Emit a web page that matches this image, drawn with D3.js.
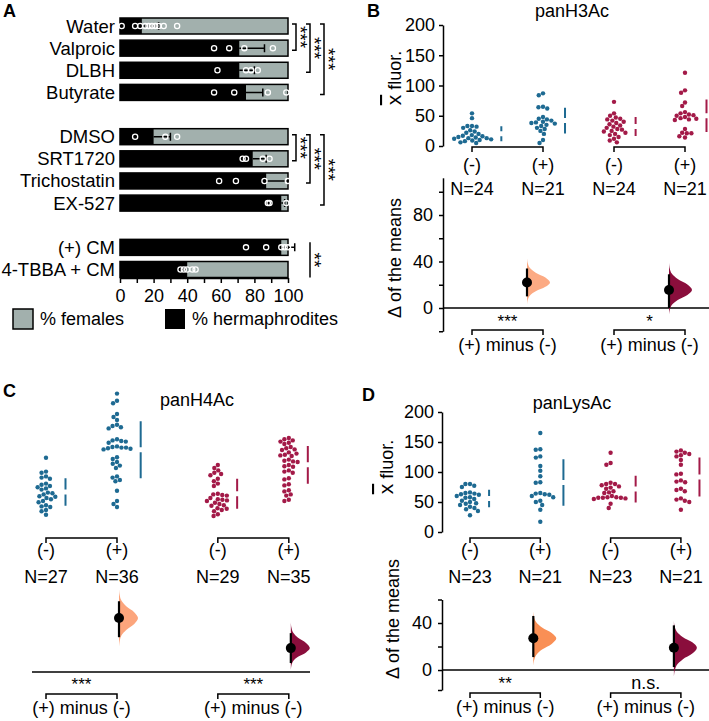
<!DOCTYPE html>
<html><head><meta charset="utf-8">
<script src="https://cdn.jsdelivr.net/npm/d3@7"></script>
<style>
body{margin:0;background:#fff;}
svg{display:block;font-family:"Liberation Sans",Arial,sans-serif;}
</style></head><body>
<svg id="fig" width="709" height="721"></svg>
<script>
// ================= DATA =================
// Panel A
const aCategories = ["Water","Valproic","DLBH","Butyrate","DMSO","SRT1720","Trichostatin","EX-527","(+) CM","4-TBBA + CM"];
const aRowOrder = ["Water","Valproic","DLBH","Butyrate","gap1","DMSO","SRT1720","Trichostatin","EX-527","gap2","(+) CM","4-TBBA + CM"];
const aHermMean = [13, 71, 71, 75, 20, 79, 87, 96, 96, 40];
const aHermErr  = [10, 15, 9, 10, 10, 8, 13, 2, 8, 0];
const aHermPoints = [
  [1, 9, 12, 15, 17, 19, 21, 23, 26, 34],
  [56, 65, 74, 91],
  [58, 75, 78, 82],
  [56, 68, 88, 99],
  [9, 27, 34],
  [73, 75, 85, 89],
  [59, 69, 86, 100, 100],
  [88, 89, 99],
  [75, 87, 96, 98, 100],
  [36, 38, 40, 43, 45]
];
const aTicks = [0, 10, 20, 30, 40, 50, 60, 70, 80, 90, 100];
const aLegend = ["% females", "% hermaphrodites"];
const aSig = [
  {from:"Water", to:"Valproic", level:0, label:"***", caps:true},
  {from:"Water", to:"DLBH", level:1, label:"***", caps:true},
  {from:"Water", to:"Butyrate", level:2, label:"***", caps:true},
  {from:"DMSO", to:"SRT1720", level:0, label:"***", caps:true},
  {from:"DMSO", to:"Trichostatin", level:1, label:"***", caps:true},
  {from:"DMSO", to:"EX-527", level:2, label:"***", caps:true},
  {from:"(+) CM", to:"4-TBBA + CM", level:1, label:"**", caps:false}
];

// Panels B-D shared labels
const groupLabels = ["(-)", "(+)", "(-)", "(+)"];
const deltaLabel = "(+) minus (-)";
const upperTicks = [0, 50, 100, 150, 200];

// Panel B: panH3Ac
const h3BlueNeg = [54, 46, 33, 33, 32, 30, 26, 24, 22, 20, 18, 17, 16, 15, 14, 13, 13, 12, 11, 10, 9, 8, 6, 5];
const h3BluePos = [87, 84, 65, 64, 62, 48, 45, 44, 42, 40, 39, 38, 37, 35, 33, 30, 28, 25, 20, 10, 5];
const h3RedNeg  = [73, 54, 50, 47, 45, 44, 42, 40, 38, 36, 34, 32, 30, 28, 27, 25, 24, 22, 20, 18, 15, 12, 9, 6];
const h3RedPos  = [121, 92, 88, 72, 66, 56, 54, 52, 51, 50, 48, 46, 45, 44, 43, 28, 22, 21, 21, 16, 14];
const h3Delta = [{mean:22, lo:10, hi:34, min:3, max:43}, {mean:15.5, lo:0, hi:29, min:-6, max:39}];
const h3Sig = ["***", "*"];

// Panel C: panH4Ac
const h4BlueNeg = [127, 104, 102, 96, 94, 92, 84, 82, 80, 78, 76, 74, 69, 68, 66, 63, 62, 60, 58, 55, 53, 48, 46, 45, 40, 38, 32];
const h4BluePos = [234, 222, 218, 200, 195, 190, 182, 180, 178, 176, 158, 156, 155, 154, 152, 146, 145, 144, 144, 143, 142, 141, 128, 125, 120, 117, 114, 110, 96, 94, 90, 88, 72, 55, 50, 45];
const h4RedNeg  = [115, 110, 106, 102, 100, 98, 92, 88, 84, 80, 67, 66, 65, 64, 60, 58, 57, 56, 55, 52, 50, 48, 47, 43, 42, 40, 38, 33, 30];
const h4RedPos  = [160, 158, 156, 154, 152, 150, 145, 143, 141, 140, 136, 134, 132, 131, 130, 124, 122, 121, 120, 115, 113, 112, 106, 104, 102, 93, 91, 83, 81, 73, 71, 66, 64, 57, 55];
const h4Delta = [{mean:46.5, lo:30, hi:61, min:21, max:72}, {mean:20.6, lo:7.7, hi:33.5, min:1.7, max:43}];
const h4Sig = ["***", "***"];

// Panel D: panLysAc
const lysBlueNeg = [80, 80, 77, 75, 66, 65, 64, 63, 62, 60, 58, 57, 55, 52, 50, 48, 47, 45, 42, 40, 38, 35, 28];
const lysBluePos = [165, 138, 137, 126, 124, 110, 102, 93, 83, 82, 65, 64, 63, 62, 60, 58, 52, 50, 45, 37, 17];
const lysRedNeg  = [132, 115, 112, 82, 80, 80, 78, 76, 74, 72, 68, 66, 65, 60, 58, 58, 57, 57, 57, 56, 55, 47, 40];
const lysRedPos  = [136, 134, 132, 130, 128, 126, 120, 112, 97, 96, 86, 84, 83, 72, 70, 68, 56, 54, 52, 50, 37];
const lysDelta = [{mean:27, lo:11, hi:46, min:3, max:50}, {mean:19, lo:2.5, hi:38, min:-6, max:42}];
const lysSig = ["**", "n.s."];

// Violin profile (relative half-width along the bootstrap distribution, read from shape)
const violinT = [-1, -0.8, -0.6, -0.4, -0.2, 0, 0.2, 0.4, 0.6, 0.8, 1];
const violinP = [0, 0.03, 0.12, 0.38, 0.8, 1, 0.8, 0.38, 0.12, 0.03, 0];

// ================= STYLE =================
const GRAY = "#a2b0ad";
const BLUE = "#1e6a92";
const RED = "#a31a48";
const MAROON = "#8a0e3c";
const FS = 18;

const svg = d3.select("#fig");
svg.append("rect").attr("width", 709).attr("height", 721).attr("fill", "#fff");

function txt(g, x, y, s, opt = {}) {
  return g.append("text").attr("x", x).attr("y", y).text(s)
    .attr("font-size", opt.size || FS)
    .attr("font-weight", opt.weight || "normal")
    .attr("text-anchor", opt.anchor || "start")
    .attr("fill", "#000");
}

// ================= PANEL A =================
(function panelA() {
  const g = svg.append("g");
  const ax = d3.scaleLinear().domain([0, 100]).range([120, 288]);
  const ay = d3.scalePoint().domain(aRowOrder).range([26, 269.5]);
  const barH = 16;

  const rows = aCategories.map((c, i) => ({c, m: aHermMean[i], e: aHermErr[i], pts: aHermPoints[i]}));

  g.selectAll("rect.bg").data(rows).join("rect")
    .attr("x", ax(0)).attr("y", d => ay(d.c) - barH / 2)
    .attr("width", ax(100) - ax(0)).attr("height", barH)
    .attr("fill", GRAY).attr("stroke", "#000").attr("stroke-width", 1.5);
  g.selectAll("rect.fg").data(rows).join("rect")
    .attr("x", ax(0)).attr("y", d => ay(d.c) - barH / 2)
    .attr("width", d => ax(d.m) - ax(0)).attr("height", barH)
    .attr("fill", "#000");
  rows.filter(d => d.e > 0).forEach(d => {
    const y = ay(d.c);
    g.append("path")
      .attr("d", `M${ax(d.m)},${y}H${ax(d.m + d.e)}M${ax(d.m + d.e)},${y - 4}V${y + 4}`)
      .attr("stroke", "#000").attr("stroke-width", 1.5).attr("fill", "none");
  });
  rows.forEach(d => {
    g.selectAll(null).data(d.pts).join("circle")
      .attr("cx", v => ax(v)).attr("cy", ay(d.c)).attr("r", 2.6)
      .attr("fill", "none").attr("stroke", "#fff").attr("stroke-width", 1.3);
  });
  g.selectAll("text.lbl").data(rows).join("text")
    .attr("x", 115).attr("y", d => ay(d.c) + 6.5).attr("text-anchor", "end")
    .attr("font-size", 18.5).text(d => d.c);
  const axis = d3.axisBottom(ax).tickValues(aTicks).tickFormat(d => d % 20 === 0 ? d : "")
    .tickSize(5).tickSizeOuter(0).tickPadding(6);
  const ga = g.append("g").attr("transform", "translate(0,278)").call(axis);
  ga.selectAll("text").attr("font-size", FS).attr("font-family", "Liberation Sans, Arial, sans-serif").attr("fill", "#000");
  ga.selectAll("path,line").attr("stroke", "#000").attr("stroke-width", 1.5);
  const sigX = d3.scaleLinear().domain([0, 2]).range([296, 324]);
  aSig.forEach(s => {
    const x = sigX(s.level);
    let y1, y2;
    if (s.caps) {
      y1 = ay(s.from) - 2; y2 = ay(s.to) + 2;
      g.append("path").attr("d", `M${x - 4},${y1}H${x}V${y2}H${x - 4}`)
        .attr("stroke", "#000").attr("stroke-width", 1.5).attr("fill", "none");
    } else {
      y1 = ay(s.from) - 5; y2 = ay(s.to) + 8;
      g.append("path").attr("d", `M${x},${y1}V${y2}`)
        .attr("stroke", "#000").attr("stroke-width", 1.5).attr("fill", "none");
    }
    g.append("text").attr("transform", `translate(${x - 2},${(y1 + y2) / 2}) rotate(90)`)
      .attr("text-anchor", "middle").attr("font-size", 19).text(s.label);
  });
  g.append("rect").attr("x", 13).attr("y", 309).attr("width", 20).attr("height", 20)
    .attr("fill", GRAY).attr("stroke", "#000").attr("stroke-width", 1.5);
  txt(g, 40, 325, aLegend[0]);
  g.append("rect").attr("x", 165).attr("y", 309).attr("width", 20).attr("height", 20).attr("fill", "#000");
  txt(g, 192, 325, aLegend[1]);
  txt(g, 3, 17, "A", {weight: "bold", size: 18});
})();

// ================= BEESWARM =================
function beeswarm(vals, y, r) {
  const d = 2 * r + 0.2;
  const pts = vals.map(v => ({v, y: y(v), x: 0})).sort((a, b) => a.y - b.y);
  const placed = [];
  for (const p of pts) {
    const cands = [0];
    for (const q of placed) {
      const dy = q.y - p.y;
      if (Math.abs(dy) < d) {
        const dx = Math.sqrt(d * d - dy * dy);
        cands.push(q.x + dx, q.x - dx);
      }
    }
    cands.sort((a, b) => Math.abs(a) - Math.abs(b) || a - b);
    for (const c of cands) {
      if (placed.every(q => (q.x - c) ** 2 + (q.y - p.y) ** 2 >= d * d - 0.01)) { p.x = c; break; }
    }
    placed.push(p);
  }
  return pts;
}

// ================= DABEST PANELS =================
function drawPanel(p) {
  const g = svg.append("g");
  const xs = d3.scaleLinear().domain([0, 1]).range(p.xRange);
  const pos = p.slots.map(s => xs(s));
  const yU = d3.scaleLinear().domain([0, 200]).range(p.upperRange);
  const yL = d3.scaleLinear().domain(p.lowerDomain).range(p.lowerRange);
  const colors = [BLUE, BLUE, RED, RED];
  const R = 2.2;

  p.groups.forEach((vals, i) => {
    const pts = beeswarm(vals, yU, R);
    const cx = pos[i];
    g.selectAll(null).data(pts).join("circle")
      .attr("cx", d => cx + d.x).attr("cy", d => d.y).attr("r", R).attr("fill", colors[i]);
    const m = d3.mean(vals), sd = d3.deviation(vals);
    const lx = cx + d3.max(pts, d => d.x) + R + 8;
    const gap = 2.5;
    g.append("path")
      .attr("d", `M${lx},${yU(m + sd)}V${yU(m) - gap}M${lx},${yU(m) + gap}V${yU(m - sd)}`)
      .attr("stroke", colors[i]).attr("stroke-width", 2).attr("fill", "none");
    txt(g, cx, p.lblY, groupLabels[i], {anchor: "middle"});
    txt(g, cx, p.nY, "N=" + vals.length, {anchor: "middle"});
  });

  [[0, 1], [2, 3]].forEach(([a, b], k) => {
    [p.bracketU, p.bracketL].forEach(by => {
      g.append("path").attr("d", `M${pos[a]},${by + 5}V${by}H${pos[b]}V${by + 5}`)
        .attr("stroke", "#000").attr("stroke-width", 1.5).attr("fill", "none");
    });
    const mx = (pos[a] + pos[b]) / 2;
    txt(g, mx, p.minusY, deltaLabel, {anchor: "middle"});
    txt(g, mx, p.sigY, p.sig[k], {anchor: "middle", size: p.sig[k] === "n.s." ? 18 : 17});
  });

  if (p.axisX !== undefined) {
    const au = d3.axisLeft(yU).tickValues(upperTicks).tickSize(4).tickPadding(4).tickSizeOuter(0);
    const gu = g.append("g").attr("transform", `translate(${p.axisX},0)`).call(au);
    const al = d3.axisLeft(yL).tickValues(p.lowerTicks)
      .tickFormat(d => p.lowerLabels.includes(d) ? d : "").tickSize(4).tickPadding(6).tickSizeOuter(0);
    const gl = g.append("g").attr("transform", `translate(${p.axisX},0)`).call(al);
    [gu, gl].forEach(ga => {
      ga.selectAll("text").attr("font-size", FS).attr("font-family", "Liberation Sans, Arial, sans-serif").attr("fill", "#000");
      ga.selectAll("path,line").attr("stroke", "#000").attr("stroke-width", 1.5);
    });
    const lu = g.append("text").attr("transform", `translate(${p.yLabU[0]},${p.yLabU[1]}) rotate(-90)`)
      .attr("text-anchor", "middle").attr("font-size", FS);
    lu.append("tspan").attr("font-size", 21).style("text-decoration", "overline").text("x");
    lu.append("tspan").text(" fluor.");
    g.append("text").attr("transform", `translate(${p.yLabL[0]},${p.yLabL[1]}) rotate(-90)`)
      .attr("text-anchor", "middle").attr("font-size", FS).text("\u0394 of the means");
  }

  g.append("line").attr("x1", p.zeroX[0]).attr("x2", p.zeroX[1])
    .attr("y1", yL(0)).attr("y2", yL(0)).attr("stroke", "#000").attr("stroke-width", 1.5);

  const vcol = [p.orange, MAROON];
  p.delta.forEach((e, k) => {
    const dx = pos[2 * k + 1] + p.deltaShift;
    const prof = violinT.map((t, j) => ({
      v: t <= 0 ? e.mean + t * (e.mean - e.min) : e.mean + t * (e.max - e.mean),
      w: violinP[j]
    }));
    const area = d3.area().y(d => yL(d.v)).x0(dx).x1(d => dx + p.vw * d.w).curve(d3.curveCatmullRom);
    g.append("path").attr("d", area(prof)).attr("fill", vcol[k]);
    g.append("line").attr("x1", dx).attr("x2", dx).attr("y1", yL(e.lo)).attr("y2", yL(e.hi))
      .attr("stroke", "#000").attr("stroke-width", 2.2);
    g.append("circle").attr("cx", dx).attr("cy", yL(e.mean)).attr("r", 5).attr("fill", "#000");
  });

  txt(g, p.title[1], p.title[2], p.title[0], {anchor: "middle"});
  txt(g, p.letter[1], p.letter[2], p.letter[0], {weight: "bold", size: 18});
}

drawPanel({
  groups: [h3BlueNeg, h3BluePos, h3RedNeg, h3RedPos], delta: h3Delta, sig: h3Sig,
  xRange: [472, 543], slots: [0, 1, 2, 3],
  upperRange: [146, 25], lowerDomain: [-20, 112], lowerRange: [331.25, 177.8],
  lowerTicks: [-20, 0, 20, 40, 60, 80, 100], lowerLabels: [0, 40, 80],
  axisX: 443, yLabU: [401, 78], yLabL: [401, 258],
  zeroX: [443, 709], bracketU: 147, bracketL: 330,
  lblY: 171, nY: 195, minusY: 351, sigY: 327,
  deltaShift: -16, vw: 23, orange: "#fcaa83",
  title: ["panH3Ac", 572, 17], letter: ["B", 367, 17]
});

drawPanel({
  groups: [h4BlueNeg, h4BluePos, h4RedNeg, h4RedPos], delta: h4Delta, sig: h4Sig,
  xRange: [46, 117], slots: [0, 1, 2.42, 3.42],
  upperRange: [534, 414], lowerDomain: [0, 100], lowerRange: [672, 556],
  zeroX: [32, 310], bracketU: 538, bracketL: 694,
  lblY: 556, nY: 583, minusY: 714, sigY: 690,
  deltaShift: 2, vw: 19, orange: "#fca57c",
  title: ["panH4Ac", 197, 406], letter: ["C", 3, 397]
});

drawPanel({
  groups: [lysBlueNeg, lysBluePos, lysRedNeg, lysRedPos], delta: lysDelta, sig: lysSig,
  xRange: [470, 540.3], slots: [0, 1, 2, 3],
  upperRange: [532, 412], lowerDomain: [-17, 60], lowerRange: [690, 599.5],
  lowerTicks: [-17, 0, 20, 40, 60], lowerLabels: [0, 40],
  axisX: 442, yLabU: [393, 467], yLabL: [399, 619],
  zeroX: [442, 709], bracketU: 538, bracketL: 693,
  lblY: 556, nY: 583, minusY: 713, sigY: 689,
  deltaShift: -7, vw: 23, orange: "#f98f55",
  title: ["panLysAc", 572, 409], letter: ["D", 362, 401]
});
</script>
</body></html>
